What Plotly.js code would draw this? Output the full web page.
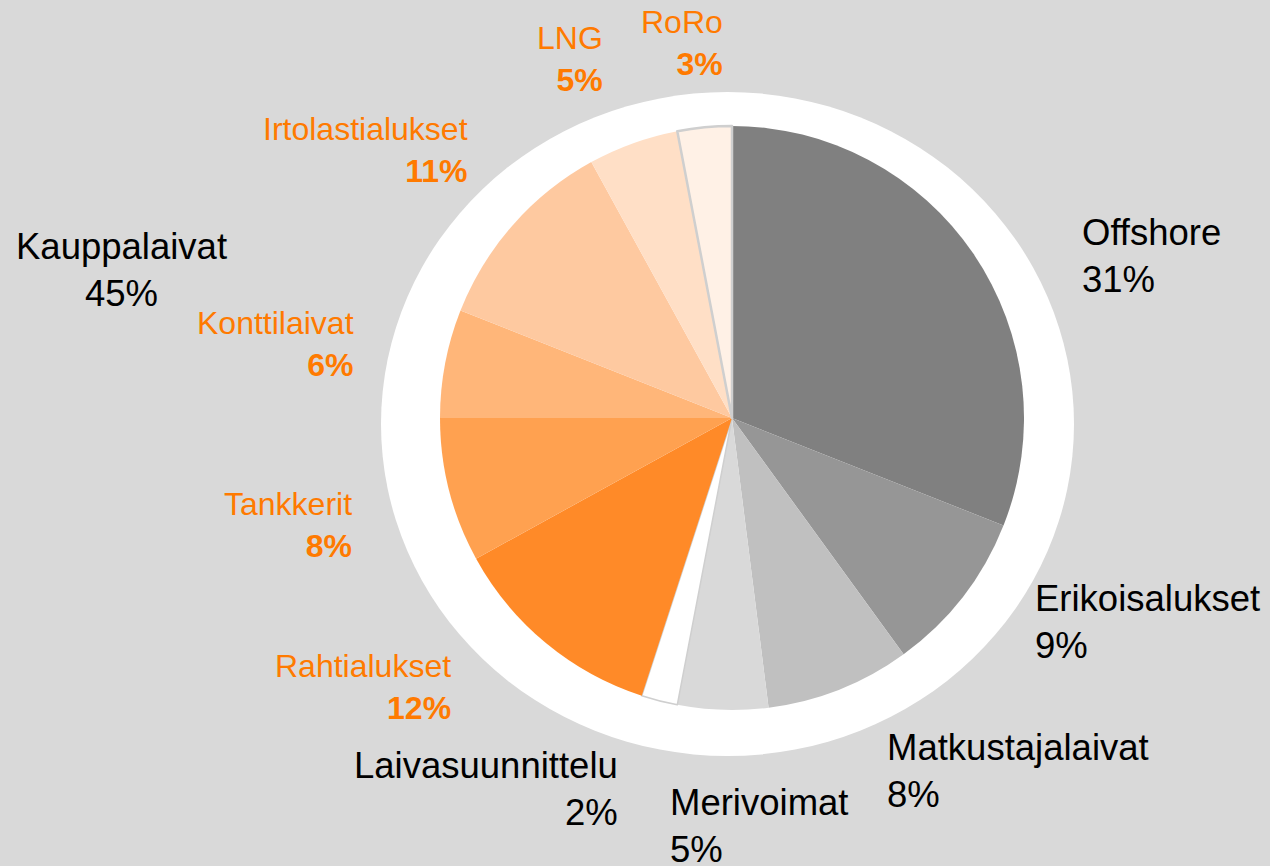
<!DOCTYPE html>
<html>
<head>
<meta charset="utf-8">
<script src="https://cdn.plot.ly/plotly-3.0.1.min.js"></script>
<style>html,body{margin:0;padding:0;background:#d9d9d9;}#chart{width:1270px;height:866px;}</style>
</head>
<body>
<div id="chart"></div>
<script>
// ---- data ----
const categories = ['Offshore','Erikoisalukset','Matkustajalaivat','Merivoimat','Laivasuunnittelu',
                    'Rahtialukset','Tankkerit','Konttilaivat','Irtolastialukset','LNG','RoRo'];
const shares = [31, 9, 8, 5, 2, 12, 8, 6, 11, 5, 3];
const isMerchant = [false,false,false,false,false,true,true,true,true,true,true];
const groupLabel = 'Kauppalaivat';

// ---- styles ----
const sliceColors = ['#808080','#969696','#c0c0c0','#d9d9d9','#ffffff',
                     '#ff8a28','#ffa150','#ffb679','#fec9a0','#ffdfc6','#fff1e6'];
const lineColors = ['#d9d9d9','#d9d9d9','#d9d9d9','#d9d9d9','#cfcfcf',
                    '#d9d9d9','#d9d9d9','#d9d9d9','#d9d9d9','#d9d9d9','#cfcfcf'];
const lineWidths = [0,0,0,0,1.5,0,0,0,0,0,2.5];
const W = 1270, H = 866;
const px = x => x / W, py = y => 1 - y / H;

// label placement (pixel anchors): [x, centerY, xanchor]
const labelPos = [
  [1080, 256, 'left'], [1033, 622, 'left'], [885, 771, 'left'], [668, 826, 'left'],
  [620, 789, 'right'], [453, 687, 'right'], [354, 525, 'right'], [356, 344, 'right'],
  [470, 150, 'right'], [605, 59, 'right'], [725, 43, 'right']
];
const groupPos = [121, 270, 'center'];

const orange = '#ff7a00';
const FONT = 'Arial, "Liberation Sans", sans-serif';
const annotations = categories.map((c, i) => {
  const p = labelPos[i];
  const merchant = isMerchant[i];
  return {
    xref: 'paper', yref: 'paper', x: px(p[0]), y: py(p[1]),
    xanchor: p[2], yanchor: 'middle', align: p[2], showarrow: false,
    text: merchant ? c + '<br><b>' + shares[i] + '%</b>' : c + '<br>' + shares[i] + '%',
    font: {family: FONT, size: merchant ? 32 : 36.5, color: merchant ? orange : '#000000'}
  };
});
const groupTotal = shares.filter((v, i) => isMerchant[i]).reduce((a, b) => a + b, 0);
annotations.push({
  xref: 'paper', yref: 'paper', x: px(groupPos[0]), y: py(groupPos[1]),
  xanchor: 'center', yanchor: 'middle', align: 'center', showarrow: false,
  text: groupLabel + '<br>' + groupTotal + '%',
  font: {family: FONT, size: 36.5, color: '#000000'}
});

const trace = {
  type: 'pie',
  labels: categories,
  values: shares,
  sort: false,
  direction: 'clockwise',
  rotation: 0,
  textinfo: 'none',
  hoverinfo: 'label+percent',
  showlegend: false,
  marker: {colors: sliceColors, line: {color: lineColors, width: lineWidths}},
  domain: {x: [px(440), px(1024)], y: [py(710), py(126)]}
};

const layout = {
  width: W, height: H,
  margin: {l: 0, r: 0, t: 0, b: 0},
  paper_bgcolor: '#d9d9d9',
  plot_bgcolor: '#d9d9d9',
  showlegend: false,
  shapes: [{
    type: 'circle', xref: 'paper', yref: 'paper', layer: 'below',
    x0: px(381), x1: px(1074), y0: py(756), y1: py(92),
    fillcolor: '#ffffff', line: {width: 0}
  }],
  annotations: annotations
};

Plotly.newPlot('chart', [trace], layout, {displayModeBar: false, staticPlot: true});
</script>
</body>
</html>
